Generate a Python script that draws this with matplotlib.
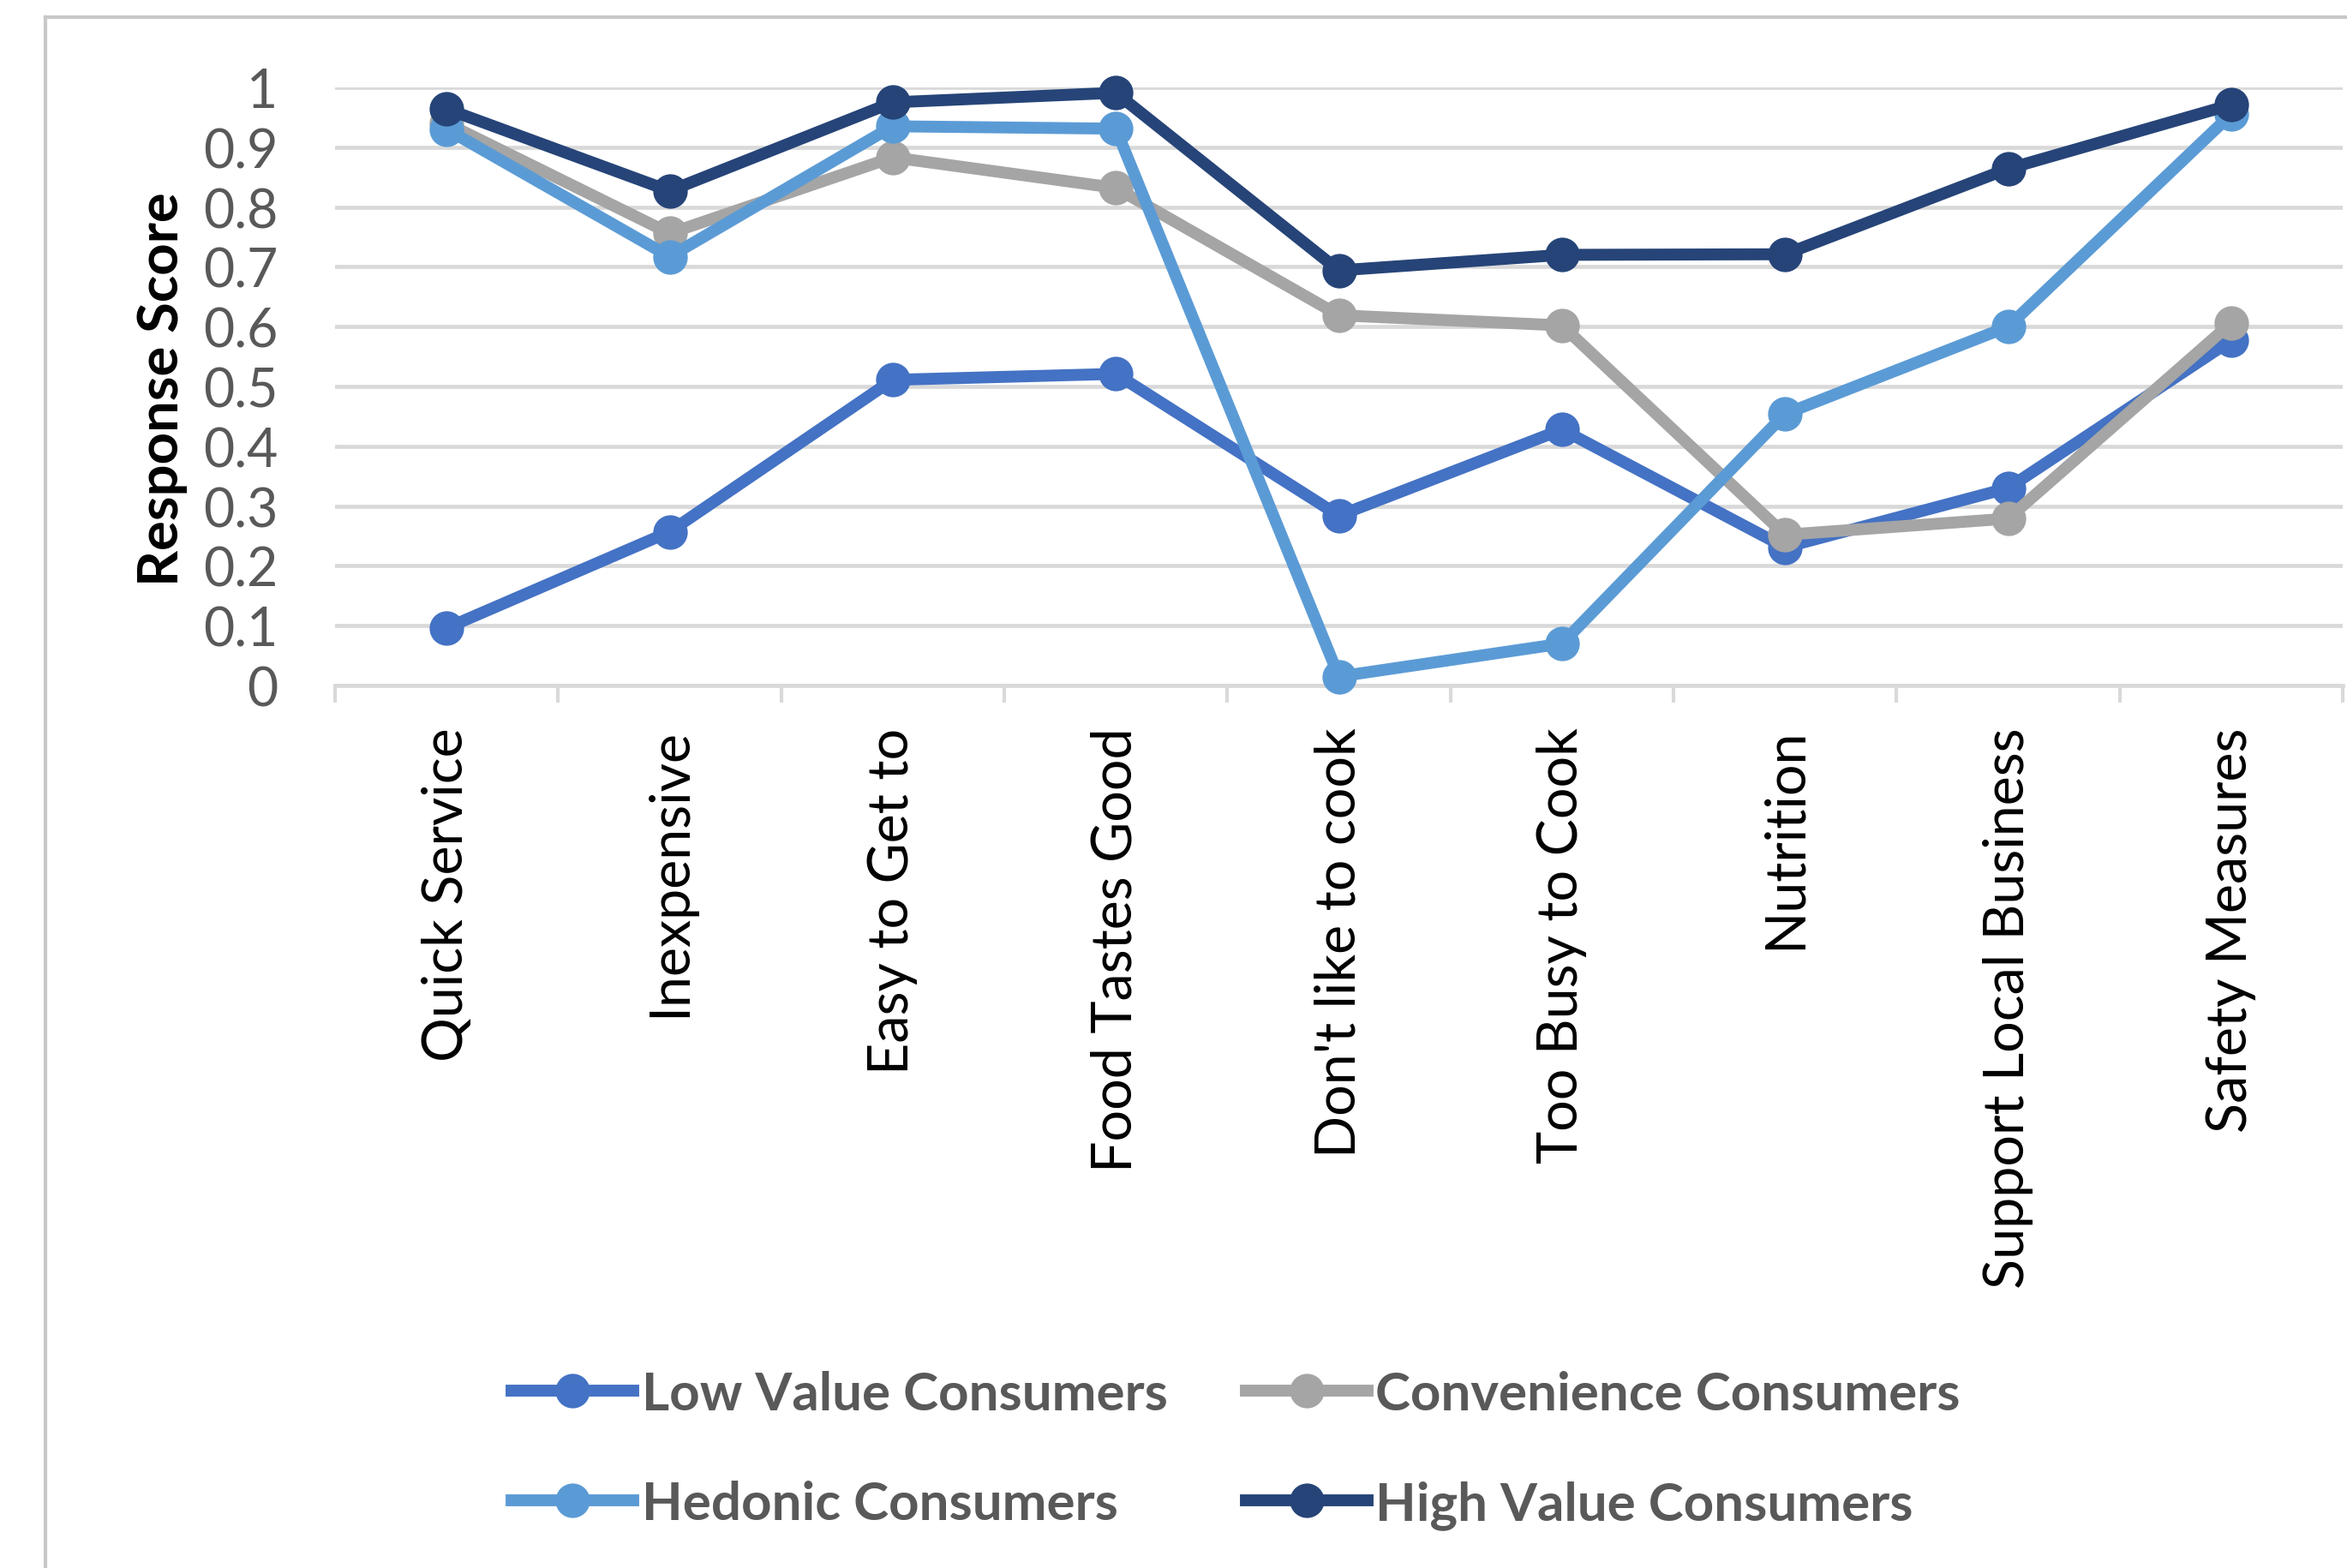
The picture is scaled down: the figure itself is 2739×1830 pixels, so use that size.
import matplotlib
matplotlib.use("Agg")
import matplotlib.pyplot as plt
from matplotlib.lines import Line2D

# ---- data -------------------------------------------------------------
categories = [
    "Quick Service", "Inexpensive", "Easy to Get to", "Food Tastes Good",
    "Don't like to cook", "Too Busy to Cook", "Nutrition",
    "Support Local Business", "Safety Measures",
]
low_value = [0.096, 0.257, 0.511, 0.521, 0.284, 0.428, 0.231, 0.330, 0.577]
convenience = [0.940, 0.756, 0.883, 0.832, 0.619, 0.602, 0.252, 0.279, 0.606]
hedonic = [0.930, 0.717, 0.935, 0.931, 0.015, 0.070, 0.454, 0.600, 0.955]
high_value = [0.964, 0.827, 0.975, 0.991, 0.694, 0.720, 0.721, 0.864, 0.971]

series_names = ["Low Value Consumers", "Convenience Consumers",
                "Hedonic Consumers", "High Value Consumers"]
series_values = [low_value, convenience, hedonic, high_value]
series_colors = ["#4472C4", "#A5A5A5", "#5B9BD5", "#264478"]

y_ticks = [0, 0.1, 0.2, 0.3, 0.4, 0.5, 0.6, 0.7, 0.8, 0.9, 1]
y_tick_labels = ["0", "0.1", "0.2", "0.3", "0.4", "0.5", "0.6", "0.7", "0.8", "0.9", "1"]

# ---- figure -----------------------------------------------------------
W, H, DPI = 2739, 1831, 100
plt.rcParams["font.family"] = ["Lato", "DejaVu Sans"]
fig = plt.figure(figsize=(W / DPI, H / DPI), dpi=DPI)
fig.patch.set_facecolor("white")

# axes placed in pixel terms
ax_left, ax_right, ax_top, ax_bottom = 391, 2734, 103, 801
ax = fig.add_axes([ax_left / W, 1 - ax_bottom / H,
                   (ax_right - ax_left) / W, (ax_bottom - ax_top) / H])

grid_color = "#D9D9D9"
x = list(range(len(categories)))

lines = []
for name, vals, col in zip(series_names, series_values, series_colors):
    ln, = ax.plot(x, vals, color=col, lw=10, marker="o", markersize=29,
                  markeredgewidth=0, label=name, clip_on=False,
                  solid_joinstyle="round", zorder=3)
    lines.append(ln)

ax.set_xlim(-0.5, len(categories) - 0.5)
ax.set_ylim(0, 1)

ax.set_yticks(y_ticks)
ax.set_yticklabels(y_tick_labels)
ax.yaxis.grid(True, color=grid_color, lw=3.4)
ax.set_axisbelow(True)

for side in ["left", "right", "top"]:
    ax.spines[side].set_visible(False)
ax.spines["bottom"].set_color(grid_color)
ax.spines["bottom"].set_linewidth(3.4)

ax.tick_params(axis="y", length=0, pad=48, labelsize=45, labelcolor="#595959")

ax.set_xticks(x)
ax.set_xticklabels(categories, rotation=90, fontsize=46.5, color="black")
ax.tick_params(axis="x", which="major", length=0, pad=35)
ax.set_xticks([i - 0.5 for i in range(len(categories) + 1)], minor=True)
ax.tick_params(axis="x", which="minor", length=14.4, width=3.0,
               color=grid_color, direction="out")

fig.text(190 / W, 1 - 454 / H, "Response Score", rotation=90,
         ha="center", va="center", fontsize=47, fontweight="bold",
         color="black")

# legend: two rows, two columns
order = [0, 2, 1, 3]
fig.legend([lines[i] for i in order], [series_names[i] for i in order],
           ncol=2, loc="center left", bbox_to_anchor=(597 / W, 1 - 1693 / H),
           frameon=False, borderpad=0, borderaxespad=0,
           handlelength=2.3, handletextpad=0.15, columnspacing=1.47,
           labelspacing=1.16,
           prop={"family": ["Lato", "DejaVu Sans"], "weight": "bold", "size": 44.6},
           labelcolor="#595959")

# chart area border (left and top edges)
border = "#C8C8C8"
fig.add_artist(Line2D([53 / W, 53 / W], [0, 1 - 21 / H], color=border,
                      lw=3, transform=fig.transFigure))
fig.add_artist(Line2D([53 / W, 1], [1 - 21 / H, 1 - 21 / H], color=border,
                      lw=3, transform=fig.transFigure))

fig.savefig("out.png", dpi=DPI, facecolor="white")
